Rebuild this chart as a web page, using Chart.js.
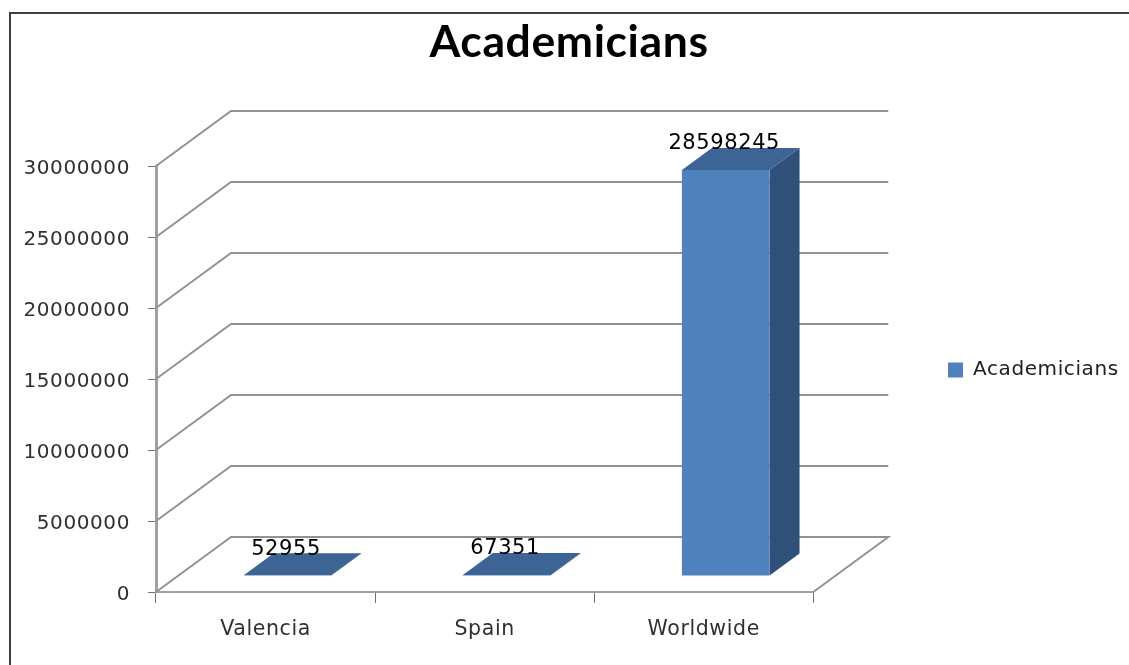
<!DOCTYPE html>
<html>
<head>
<meta charset="utf-8">
<title>Academicians</title>
<script src="https://cdn.jsdelivr.net/npm/chart.js@4"></script>
<style>
html, body { margin: 0; padding: 0; background: #fff; overflow: hidden; }
canvas { display: block; filter: blur(0.5px); }
</style>
</head>
<body>
<canvas id="my-chart" width="1129" height="665"></canvas>
<script>
var categories = ['Valencia', 'Spain', 'Worldwide'];
var academicians = [52955, 67351, 28598245];
var yTicks = [0, 5000000, 10000000, 15000000, 20000000, 25000000, 30000000];

var font = 'DejaVu Sans';
var wallDepth = {x: 75, y: -55};
var barDepth = {x: 30, y: -22};
var barShift = {x: 22, y: -16};

// Chart.js has no 3D bars any more, so the walls and the bar sides are added here
var fake3d = {
    id: 'fake3d',
    beforeUpdate: function (chart) {
        chart.ctx.letterSpacing = '0.6px';
    },
    afterLayout: function (chart) {
        // title is centred on the picture, not on what the legend leaves over
        chart.titleBlock.left = 0;
        chart.titleBlock.right = 1138;
        chart.legend.left = 938;
        chart.legend.right = 1129;
        chart.legend.top = 302;
        chart.legend.bottom = 438;
    },
    beforeDraw: function (chart) {
        var ctx = chart.ctx;
        ctx.letterSpacing = '0.6px';
        // frame is cut off on the right and at the bottom of the picture
        ctx.save();
        ctx.strokeStyle = '#404040';
        ctx.lineWidth = 2;
        ctx.beginPath();
        ctx.moveTo(10, 665);
        ctx.lineTo(10, 13);
        ctx.lineTo(1129, 13);
        ctx.stroke();
        ctx.restore();
    },
    beforeDatasetDraw: function (chart) {
        var ctx = chart.ctx;
        var area = chart.chartArea;
        var y = chart.scales.y;
        ctx.save();
        ctx.strokeStyle = '#929292';
        ctx.lineWidth = 2;
        yTicks.forEach(function (t) {
            var py = y.getPixelForValue(t);
            ctx.beginPath();
            ctx.moveTo(area.left, py);
            ctx.lineTo(area.left + wallDepth.x, py + wallDepth.y);
            ctx.lineTo(area.right + wallDepth.x, py + wallDepth.y);
            if (t === 0) ctx.lineTo(area.right, py);
            ctx.stroke();
        });
        ctx.restore();

        chart.getDatasetMeta(0).data.forEach(function (bar) {
            var l = bar.x - bar.width / 2 + barShift.x;
            var r = bar.x + bar.width / 2 + barShift.x;
            var t = bar.y + barShift.y;
            var b = bar.base + barShift.y;
            ctx.fillStyle = '#3c6494';
            ctx.beginPath();
            ctx.moveTo(l, t);
            ctx.lineTo(l + barDepth.x, t + barDepth.y);
            ctx.lineTo(r + barDepth.x, t + barDepth.y);
            ctx.lineTo(r, t);
            ctx.closePath();
            ctx.fill();
            ctx.fillStyle = '#2f5078';
            ctx.beginPath();
            ctx.moveTo(r, t);
            ctx.lineTo(r + barDepth.x, t + barDepth.y);
            ctx.lineTo(r + barDepth.x, b + barDepth.y);
            ctx.lineTo(r, b);
            ctx.closePath();
            ctx.fill();
        });

        ctx.save();
        ctx.translate(barShift.x, barShift.y);
    },
    afterDatasetDraw: function (chart) {
        var ctx = chart.ctx;
        ctx.restore();
        ctx.save();
        ctx.font = '21px "' + font + '"';
        ctx.fillStyle = '#000000';
        ctx.textAlign = 'center';
        ctx.textBaseline = 'middle';
        chart.getDatasetMeta(0).data.forEach(function (bar, i) {
            ctx.fillText(String(academicians[i]), bar.x + barShift.x - 1.5, bar.y + barShift.y - 26);
        });
        ctx.restore();
    }
};

new Chart(document.getElementById('my-chart').getContext('2d'), {
    type: 'bar',
    plugins: [fake3d],
    data: {
        labels: categories,
        datasets: [{
            label: 'Academicians',
            data: academicians,
            backgroundColor: '#4f81bd',
            borderWidth: 0,
            barPercentage: 0.4,
            categoryPercentage: 1
        }]
    },
    options: {
        responsive: false,
        animation: false,
        layout: {padding: {top: 16, right: 125, left: 0, bottom: 0}},
        plugins: {
            title: {
                display: true,
                text: 'Academicians',
                color: '#000000',
                font: {family: 'Lato', size: 44.5, weight: 'bold'},
                padding: {top: 0, bottom: 96.6}
            },
            legend: {
                position: 'right',
                labels: {
                    color: '#202020',
                    font: {family: font, size: 20},
                    boxWidth: 15,
                    boxHeight: 15
                }
            },
            tooltip: {enabled: false}
        },
        scales: {
            x: {
                afterFit: function (s) { s.height = 73; },
                grid: {
                    offset: true,
                    drawOnChartArea: false,
                    color: '#707070',
                    tickLength: 11
                },
                border: {color: '#a0a0a0', width: 2},
                ticks: {color: '#303030', font: {family: font, size: 20.5}, padding: 14, maxRotation: 0}
            },
            y: {
                min: yTicks[0],
                max: yTicks[yTicks.length - 1],
                afterFit: function (s) { s.width = 156; },
                afterBuildTicks: function (s) {
                    s.ticks = yTicks.map(function (v) { return {value: v}; });
                },
                grid: {
                    drawOnChartArea: false,
                    color: '#707070',
                    tickLength: 8
                },
                border: {color: '#a0a0a0', width: 3},
                ticks: {
                    color: '#303030',
                    font: {family: font, size: 20},
                    padding: 18,
                    labelOffset: 3,
                    callback: function (v) { return String(v); }
                }
            }
        }
    }
});
</script>
</body>
</html>
